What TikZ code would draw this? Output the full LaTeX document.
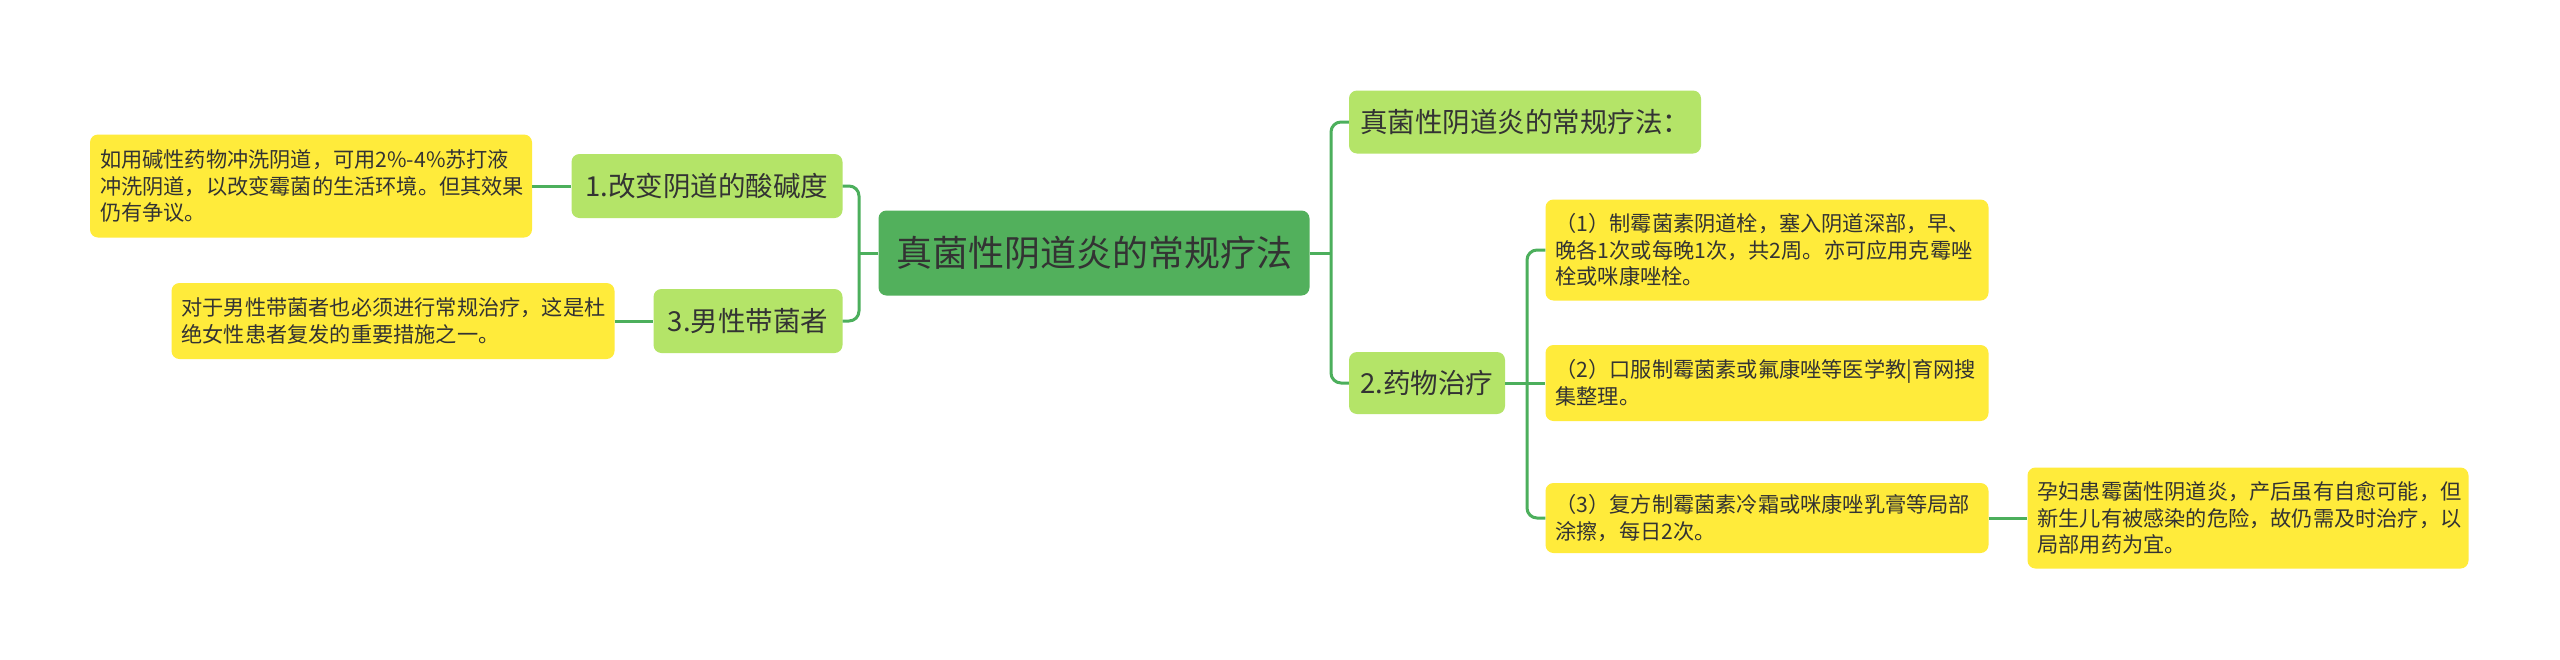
\documentclass[tikz,border=0pt]{standalone}
\usepackage{fontspec}
\setmainfont{Noto Sans CJK SC}
\definecolor{rootg}{HTML}{52B05C}
\definecolor{lg}{HTML}{B4E468}
\definecolor{yel}{HTML}{FFEB3B}
\definecolor{edge}{HTML}{4CAF5C}
\definecolor{txt}{HTML}{333333}
\begin{document}
\begin{tikzpicture}[x=1pt,y=-1pt,
 box/.style={rounded corners=8pt, inner sep=0pt, text=txt, anchor=center},
 rootbox/.style={box, fill=rootg, font=\fontsize{36}{42}\selectfont},
 lvbox/.style={box, fill=lg, font=\fontsize{27.5}{33}\selectfont},
 notebox/.style={box, fill=yel, font=\fontsize{21.2}{26.5}\selectfont, align=left, inner xsep=10pt},
 link/.style={draw=edge, line width=3pt, rounded corners=10pt}]
\useasboundingbox[fill=white] (0,0) rectangle (2560,659);

\node[rootbox, minimum width=431pt, minimum height=85pt] (root) at (1094,253) {真菌性阴道炎的常规疗法};

\node[lvbox, minimum width=271pt, minimum height=64pt] (n1) at (707,186) {1.改变阴道的酸碱度};
\node[lvbox, minimum width=189pt, minimum height=64pt] (n3) at (748,321) {3.男性带菌者};
\node[lvbox, minimum width=352pt, minimum height=63pt] (r1) at (1525,122) {真菌性阴道炎的常规疗法：};
\node[lvbox, minimum width=156pt, minimum height=62pt] (n2) at (1427,383) {2.药物治疗};

\node[notebox, text width=422pt, minimum height=103pt] (a) at (311,186) {如用碱性药物冲洗阴道，可用2\%-4\%苏打液\\冲洗阴道，以改变霉菌的生活环境。但其效果\\仍有争议。};
\node[notebox, text width=423pt, minimum height=76pt] (b) at (393,321) {对于男性带菌者也必须进行常规治疗，这是杜\\绝女性患者复发的重要措施之一。};

\node[notebox, text width=423pt, minimum height=101pt] (y1) at (1767,250) {（1）制霉菌素阴道栓，塞入阴道深部，早、\\晚各1次或每晚1次，共2周。亦可应用克霉唑\\栓或咪康唑栓。};
\node[notebox, text width=423pt, minimum height=76pt] (y2) at (1767,383) {（2）口服制霉菌素或氟康唑等医学教|育网搜\\集整理。};
\node[notebox, text width=423pt, minimum height=70pt] (y3) at (1767,518) {（3）复方制霉菌素冷霜或咪康唑乳膏等局部\\涂擦，每日2次。};
\node[notebox, text width=421pt, minimum height=101pt] (y4) at (2248,518) {孕妇患霉菌性阴道炎，产后虽有自愈可能，但\\新生儿有被感染的危险，故仍需及时治疗，以\\局部用药为宜。};

\coordinate (lb) at (859,253);
\coordinate (rb) at (1331,253);
\coordinate (cb) at (1527,383);

\draw[link] (root.west) -- (lb);
\draw[link] (n1.east) -| (lb) |- (n3.east);
\draw[link] (root.east) -- (rb);
\draw[link] (r1.west) -| (rb) |- (n2.west);
\draw[link] (a.east) -- (n1.west);
\draw[link] (b.east) -- (n3.west);
\draw[link] (n2.east) -- (cb) -- (y2.west);
\draw[link] (y1.west) -| (cb) |- (y3.west);
\draw[link] (y3.east) -- (y4.west);
\end{tikzpicture}
\end{document}
